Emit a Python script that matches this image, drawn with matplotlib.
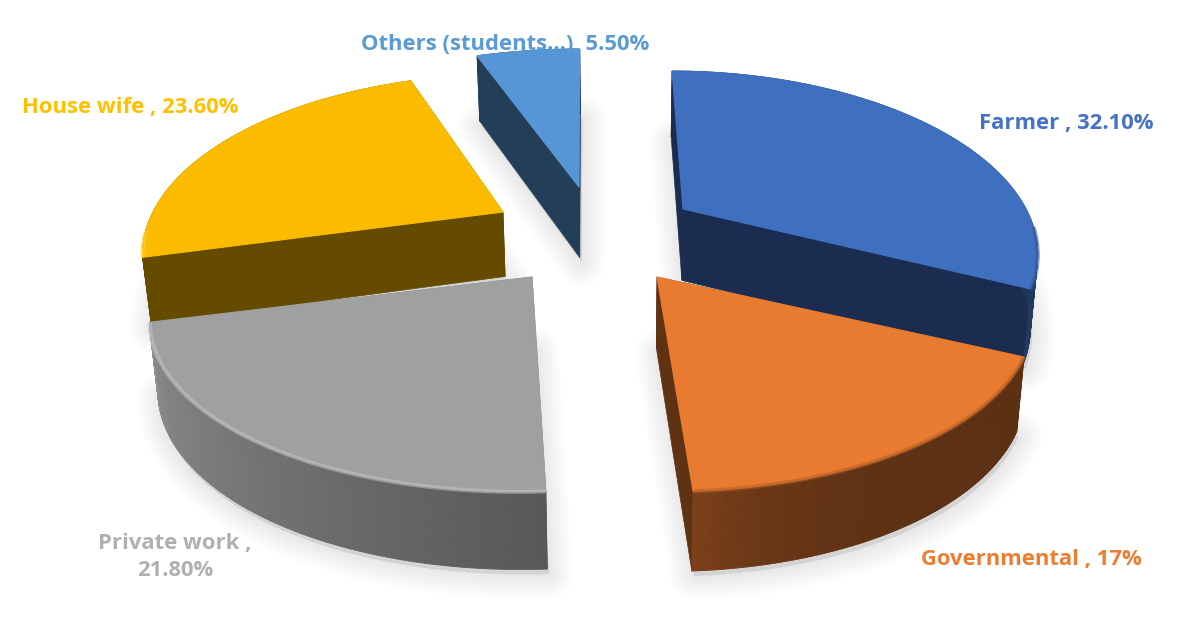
import numpy as np
import matplotlib
matplotlib.use("Agg")
import matplotlib.pyplot as plt
from matplotlib.collections import PolyCollection

# data
categories = ["Farmer", "Governmental", "Private work", "House wife", "Others (students...)"]
values = [32.1, 17.0, 21.8, 23.6, 5.5]
value_labels = ["32.10%", "17%", "21.80%", "23.60%", "5.50%"]

# look of each slice
top_colors = ["#3F6FBF", "#E97B30", "#A0A0A0", "#FBBC00", "#5796D6"]
cut_colors = ["#1A2D50", "#5F3214", "#6E6E6E", "#654B00", "#233F58"]
wall_from = ["#1A2D50", "#5C3013", "#585858", "#654B00", "#233F58"]
wall_to = ["#22385F", "#7C4019", "#8E8E8E", "#654B00", "#233F58"]
wall_power = [1, 5, 1, 1, 1]
rim_colors = ["#2F558F", "#A85A24", "#C8C8C8", "#FFD24A", "#5796D6"]
text_colors = ["#4472C4", "#ED7D31", "#B0B0B0", "#FFC000", "#5B9BD5"]

# where each slice sits (pixels), exploded by hand like the original
apex_x = [683, 657, 532, 503, 579]
apex_y = [209, 277, 277, 212, 187]
radius = [343, 365, 371, 350, 365]
lean = [0, 0, 9.5, 18, 8.5]
depth = [75, 72, 70, 68, 75]
label_x = [1066, 1031, 175, 130, 505]
label_y = [124, 559, 557, 108, 44]
draw_order = [4, 3, 0, 2, 1]

# camera
vanish_x = 622
persp = 0.218
flat = 168
shrink = 0.982


def project(i, theta):
    u = np.sin(theta)
    v = np.cos(theta)
    d = 1 + persp * v
    x = vanish_x + (apex_x[i] - vanish_x + radius[i] * u - lean[i] * v) / d
    y = apex_y[i] - flat * v / d
    return x, y


def lower(i, x, y):
    xb = vanish_x + (np.asarray(x) - vanish_x) * shrink
    yb = np.asarray(y) + depth[i] + 0.04 * (np.asarray(y) - 300)
    return xb, yb


def hex_rgb(c):
    return np.array(matplotlib.colors.to_rgb(c))


fig = plt.figure(figsize=(12.04, 6.29), dpi=100)
ax = fig.add_axes([0, 0, 1, 1])
ax.set_xlim(0, 1204)
ax.set_ylim(629, 0)
ax.axis("off")

edges = np.cumsum([0] + values) / sum(values) * 2 * np.pi

# soft shadows first
for i in range(len(values)):
    t = np.linspace(edges[i], edges[i + 1], 80)
    x, y = project(i, t)
    xs = np.r_[apex_x[i], x]
    ys = np.r_[apex_y[i], y]
    xb, yb = lower(i, xs, ys)
    for lw in np.arange(34, 1, -3):
        ax.fill(xb + 2, yb + 5, facecolor="#000000", edgecolor="#000000",
                alpha=0.009, lw=lw, joinstyle="round", zorder=1)

z = 2
for i in draw_order:
    a0, a1 = edges[i], edges[i + 1]
    t = np.linspace(a0, a1, 160)
    x, y = project(i, t)
    xb, yb = lower(i, x, y)
    ab_x, ab_y = lower(i, apex_x[i], apex_y[i])

    # the two cut faces
    for k in [0, -1]:
        face = [(apex_x[i], apex_y[i]), (x[k], y[k]), (xb[k], yb[k]), (ab_x, ab_y)]
        ax.fill(*zip(*face), color=cut_colors[i], lw=0.5, zorder=z)

    # outer wall with a gradient
    quads = []
    cols = []
    c0 = hex_rgb(wall_from[i])
    c1 = hex_rgb(wall_to[i])
    tt = (t - a0) / (a1 - a0)
    for j in range(len(t) - 1):
        quads.append([(x[j], y[j]), (x[j + 1], y[j + 1]), (xb[j + 1], yb[j + 1]), (xb[j], yb[j])])
        cols.append(c0 + (c1 - c0) * tt[j] ** wall_power[i])
    ax.add_collection(PolyCollection(quads, facecolors=cols, edgecolors=cols, linewidths=0.6, zorder=z))

    # top face
    ax.fill(np.r_[apex_x[i], x], np.r_[apex_y[i], y], color=top_colors[i], lw=0.8, zorder=z + 0.1)

    # rim along the front of the top, there is no wall behind it at the back
    front = np.cos(t) < -0.1
    ax.plot(x[front], y[front], color=rim_colors[i], lw=3.0, alpha=0.5, solid_capstyle="butt", zorder=z + 0.2)
    z += 1

# labels
for i in range(len(values)):
    name = categories[i] + " , " + value_labels[i]
    if categories[i] == "Private work":
        name = categories[i] + " ,\n" + value_labels[i]
    if categories[i] == "Others (students...)":
        name = categories[i] + ", " + value_labels[i]
    ax.text(label_x[i], label_y[i], name, color=text_colors[i], fontsize=15.8, fontweight="bold",
            family="Open Sans", ha="center", va="center", linespacing=1.4, zorder=20)

plt.savefig("out.png", dpi=100)
